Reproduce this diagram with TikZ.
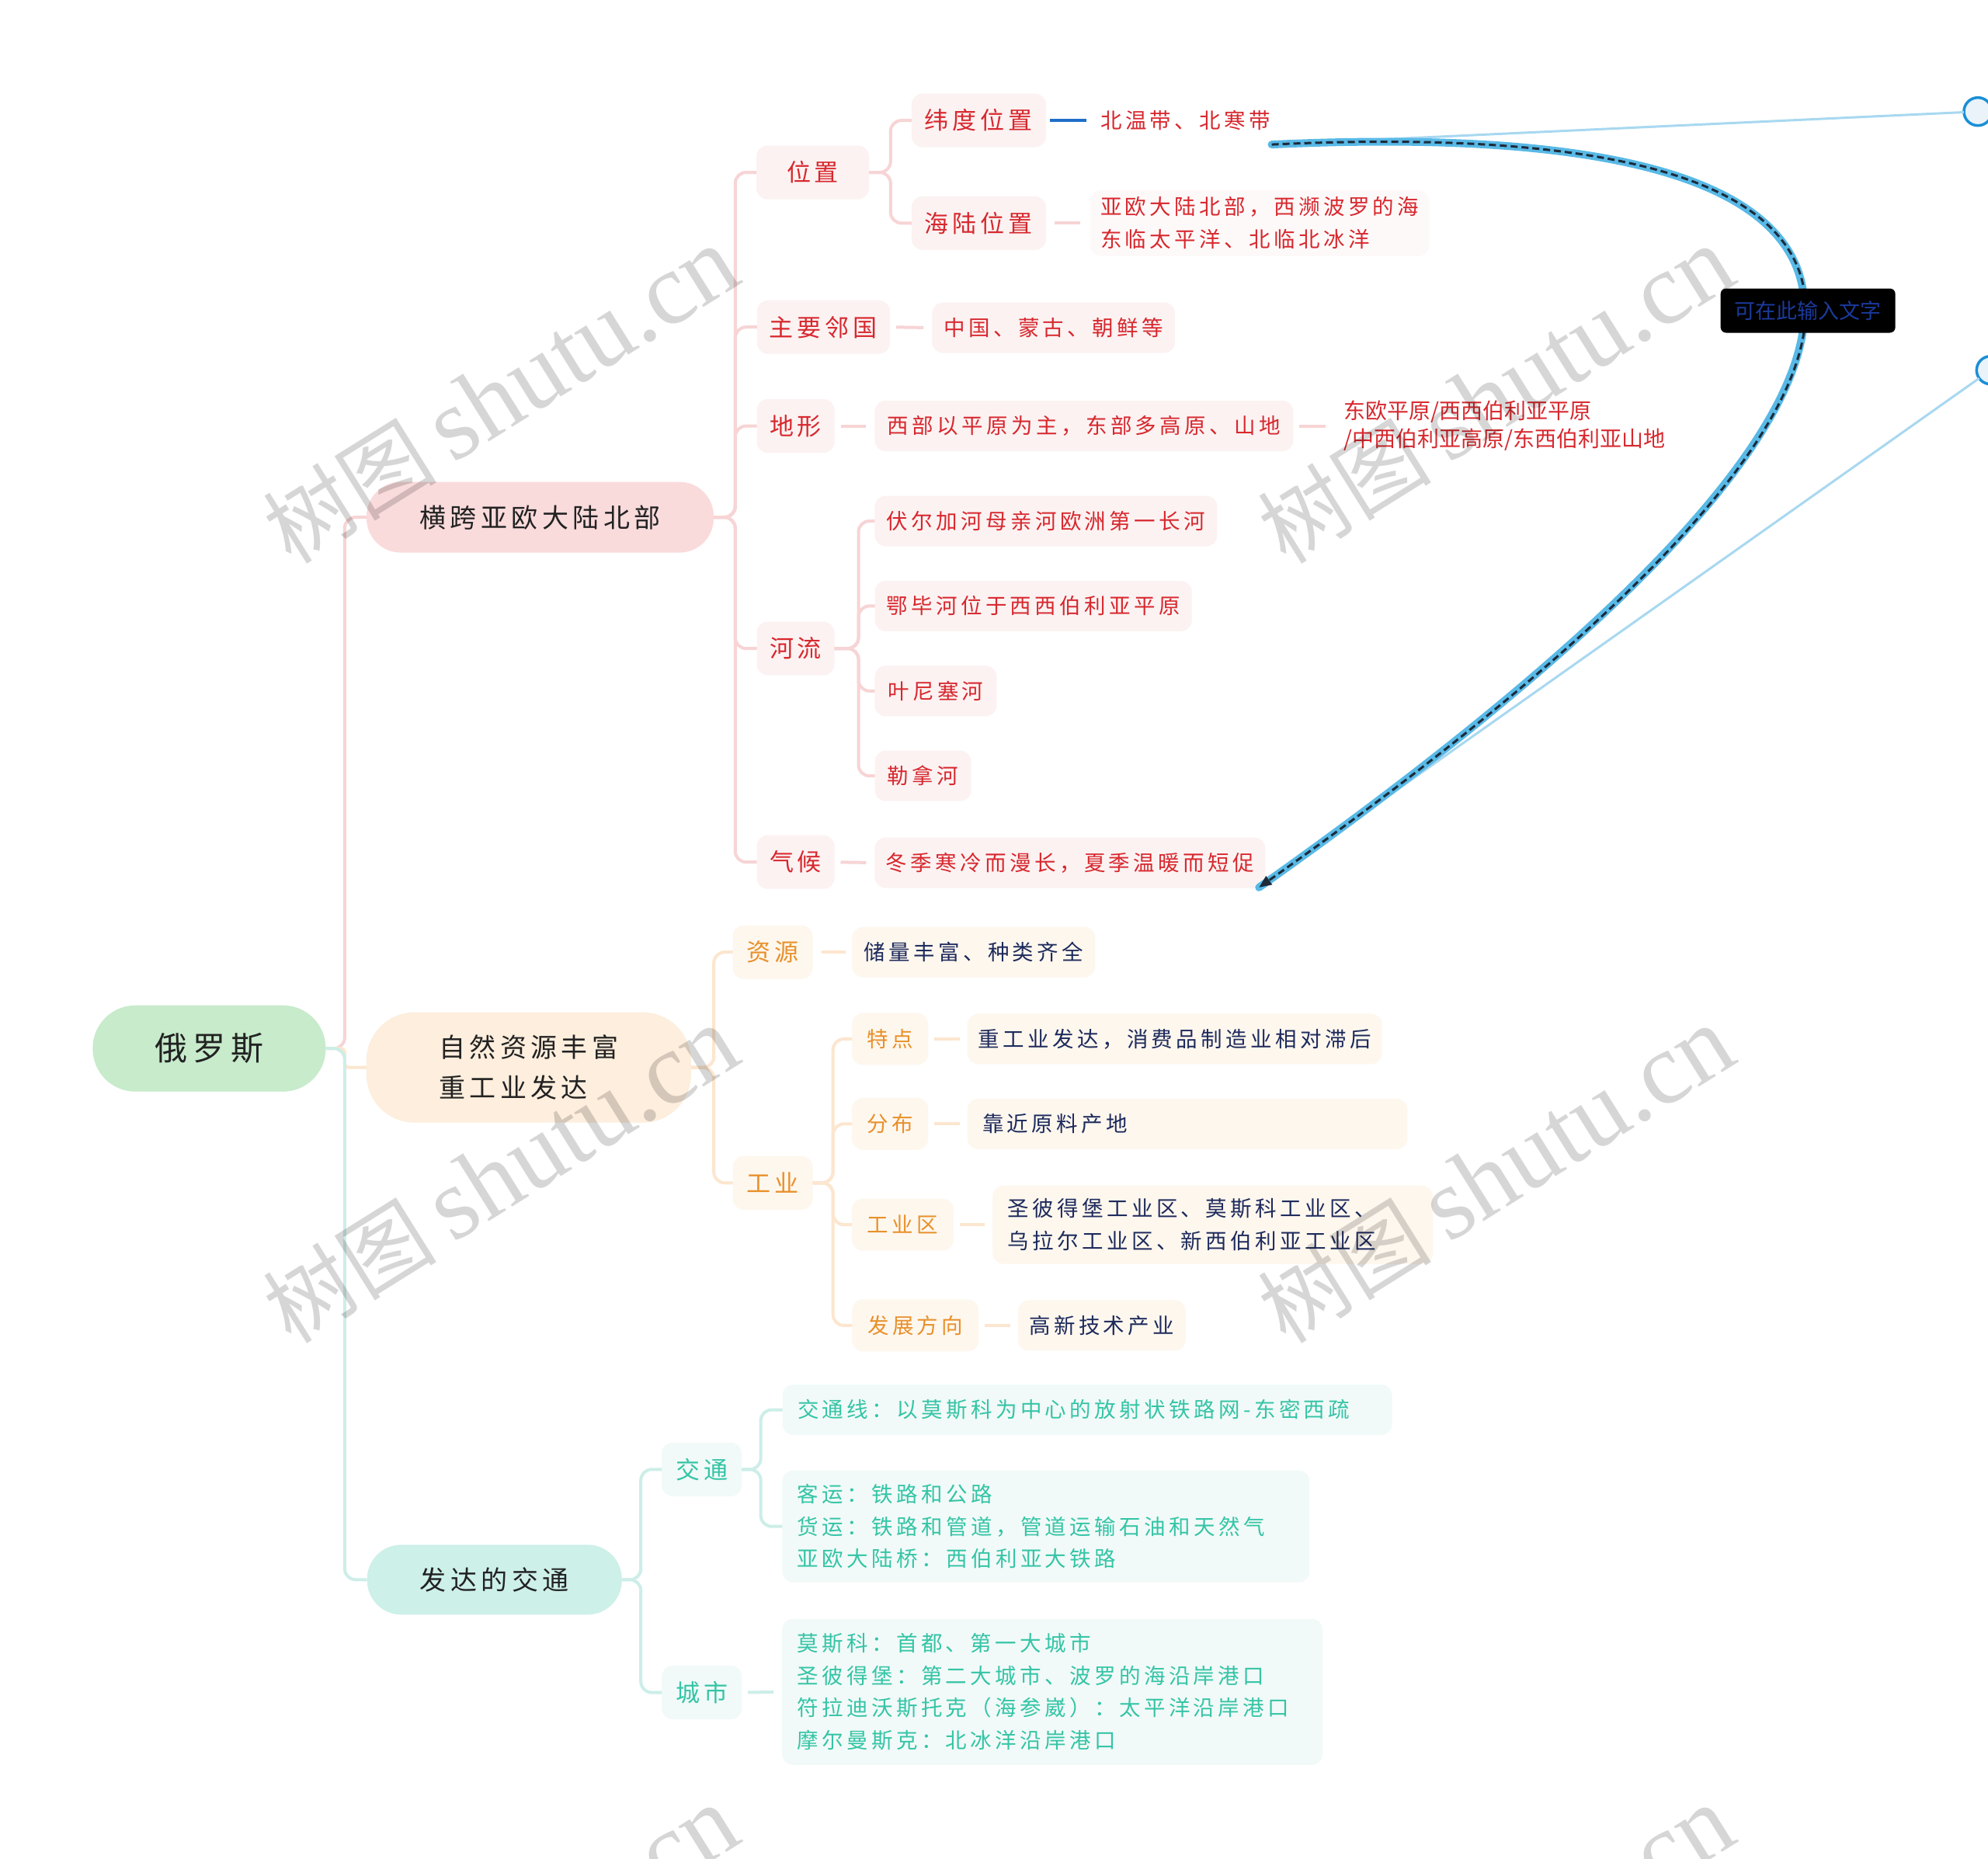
\documentclass[tikz,border=0pt]{standalone}
\usepackage{fontspec}
\usetikzlibrary{arrows.meta}
\newfontfamily\hw[LetterSpace=16]{Noto Sans CJK SC}
\newfontfamily\plainsans{Noto Sans CJK SC}
\newfontfamily\wmser{Liberation Serif}
\newcommand\myfs[2]{\fontsize{#1}{#2}\selectfont}
\definecolor{rootfill}{HTML}{C7EBCB}
\definecolor{pinkfill}{HTML}{FADBDC}
\definecolor{peachfill}{HTML}{FDEEDD}
\definecolor{mintfill}{HTML}{CDF0E9}
\definecolor{txtdark}{HTML}{222222}
\definecolor{redtxt}{HTML}{D7282E}
\definecolor{redbox}{HTML}{FCF2F2}
\definecolor{faintred}{HTML}{FEF9F9}
\definecolor{orgtxt}{HTML}{E8902A}
\definecolor{orgbox}{HTML}{FEF7EE}
\definecolor{navytxt}{HTML}{1D2A5C}
\definecolor{tealtxt}{HTML}{35C4A6}
\definecolor{tealbox}{HTML}{F1FAF8}
\definecolor{pinkln}{HTML}{F7D4D5}
\definecolor{peachln}{HTML}{FCE6CF}
\definecolor{mintln}{HTML}{CDEEE8}
\definecolor{blueln}{HTML}{1F6FC9}
\definecolor{handleln}{HTML}{A8D8F0}
\definecolor{ctrlblue}{HTML}{1A8FD6}
\definecolor{ctrlfill}{HTML}{EAF2FA}
\definecolor{glowblue}{HTML}{58B9E6}
\definecolor{dashdark}{HTML}{1D2B3A}
\definecolor{lbltxt}{HTML}{1B3A9C}
\begin{document}
\begin{tikzpicture}[x=1.6327pt,y=-1.6327pt,
  every node/.style={inner sep=0pt, outer sep=0pt},
  rootbox/.style={fill=rootfill, rounded corners=55pt, minimum width=300pt, minimum height=111pt, text=txtdark, font=\hw\myfs{42}{48}},
  lonebox/.style={rounded corners=44pt, font=\hw\myfs{34}{52}, text=txtdark, align=left},
  rl2/.style={fill=redbox, rounded corners=14pt, text=redtxt, font=\hw\myfs{31}{40}, minimum height=69pt},
  rleaf/.style={fill=redbox, rounded corners=14pt, text=redtxt, font=\hw\myfs{27.5}{42}, minimum height=65pt},
  ol2/.style={fill=orgbox, rounded corners=14pt, text=orgtxt, font=\hw\myfs{31}{40}, minimum height=69pt},
  ol3/.style={fill=orgbox, rounded corners=14pt, text=orgtxt, font=\hw\myfs{27.5}{40}, minimum height=67pt},
  nleaf/.style={fill=orgbox, rounded corners=14pt, text=navytxt, font=\hw\myfs{27.5}{42.5}, minimum height=65pt},
  tl2/.style={fill=tealbox, rounded corners=14pt, text=tealtxt, font=\hw\myfs{31}{40}, minimum height=69pt},
  tleaf/.style={fill=tealbox, rounded corners=14pt, text=tealtxt, font=\hw\myfs{27.5}{41.6}, align=left},
  lp/.style={draw=pinkln, line width=4pt, rounded corners=14pt},
  lo/.style={draw=peachln, line width=4pt, rounded corners=14pt},
  lm/.style={draw=mintln, line width=4pt, rounded corners=14pt},
  ctrlpt/.style={circle, draw=ctrlblue, line width=3.5pt, fill=ctrlfill, minimum size=36pt},
  handle/.style={draw=handleln, line width=3pt},
  glowline/.style={draw=glowblue, line width=10pt, line cap=round},
  dashcurve/.style={draw=dashdark, line width=3pt, dash pattern=on 9pt off 5pt, -{Triangle[length=16pt,width=13pt]}},
  lblbox/.style={fill=black, rounded corners=7pt, minimum width=225pt, minimum height=57pt, text=lbltxt, font=\plainsans\myfs{27}{30}},
  wm/.style={rotate=32, text=black, text opacity=0.16, font=\wmser\myfs{132}{132}}
]
\useasboundingbox (0,0) rectangle (1568,1466);
\fill[white] (0,0) rectangle (1568,1466);
\clip (0,0) rectangle (1568,1466);

% root and level 1
\node[rootbox] (root) at (165,827) {俄罗斯};
\node[lonebox, fill=pinkfill, minimum width=447pt, minimum height=91pt] (A) at (426,408) {横跨亚欧大陆北部};
\node[lonebox, fill=peachfill, minimum width=418pt, minimum height=142pt, rounded corners=62pt] (B) at (417,842) {自然资源丰富\\重工业发达};
\node[lonebox, fill=mintfill, minimum width=328pt, minimum height=90pt] (C) at (390,1246) {发达的交通};

% branch A
\node[rl2, minimum width=145pt] (wz) at (641,136) {位置};
\node[rl2, minimum width=171pt] (lg) at (649.5,258) {主要邻国};
\node[rl2, minimum width=100pt] (dx) at (627.5,336) {地形};
\node[rl2, minimum width=100pt] (hl) at (627.5,511.5) {河流};
\node[rl2, minimum width=100pt] (qh) at (627.5,680) {气候};
\node[rl2, minimum width=173pt] (wd) at (772,95) {纬度位置};
\node[rl2, minimum width=173pt] (hlw) at (772,176) {海陆位置};
\node[rleaf, fill=none, anchor=west] (wdc) at (868,95) {北温带、北寒带};
\node[rleaf, fill=faintred, anchor=west, inner xsep=13pt, align=left, minimum height=85pt] (hlc) at (860,176) {亚欧大陆北部，西濒波罗的海\\东临太平洋、北临北冰洋};
\node[rleaf, minimum width=313pt] (lgc) at (831,258.5) {中国、蒙古、朝鲜等};
\node[rleaf, minimum width=539pt] (dxc) at (855,336) {西部以平原为主，东部多高原、山地};
\node[font=\plainsans\myfs{28}{36}, text=redtxt, align=left, anchor=west] (dxn) at (1060,336) {东欧平原/西西伯利亚平原\\/中西伯利亚高原/东西伯利亚山地};
\node[rleaf, minimum width=441pt] (r1) at (825,411) {伏尔加河母亲河欧洲第一长河};
\node[rleaf, minimum width=408pt] (r2) at (815,478) {鄂毕河位于西西伯利亚平原};
\node[rleaf, minimum width=157pt] (r3) at (738,545) {叶尼塞河};
\node[rleaf, minimum width=124pt] (r4) at (728,612) {勒拿河};
\node[rleaf, minimum width=503pt] (qhc) at (844,680.5) {冬季寒冷而漫长，夏季温暖而短促};

% branch B
\node[ol2, minimum width=103pt] (zy) at (609.5,751) {资源};
\node[ol2, minimum width=103pt] (gy) at (609.5,933) {工业};
\node[nleaf, minimum width=313pt] (zyc) at (768,751) {储量丰富、种类齐全};
\node[ol3, minimum width=98pt] (td) at (702,819.5) {特点};
\node[ol3, minimum width=98pt] (fb) at (702,886.5) {分布};
\node[ol3, minimum width=131pt] (gyq) at (712,966) {工业区};
\node[ol3, minimum width=163pt] (fz) at (722,1045.5) {发展方向};
\node[nleaf, minimum width=534pt] (tdc) at (926.5,819.5) {重工业发达，消费品制造业相对滞后};
\node[nleaf, text width=528pt, inner xsep=19.5pt, align=left] (fbc) at (936.5,886.5) {靠近原料产地};
\node[nleaf, text width=528pt, inner xsep=19.5pt, align=left, minimum height=101pt] (gyqc) at (956.5,966) {圣彼得堡工业区、莫斯科工业区、\\乌拉尔工业区、新西伯利亚工业区};
\node[nleaf, minimum width=216pt] (fzc) at (869,1045.5) {高新技术产业};

% branch C
\node[tl2, minimum width=103pt] (jt) at (553.5,1159) {交通};
\node[tl2, minimum width=103pt] (cs) at (553.5,1335) {城市};
\node[tleaf, text width=746pt, inner xsep=19.5pt, minimum height=65pt] (jt1) at (857.5,1112) {交通线：以莫斯科为中心的放射状铁路网-东密西疏};
\node[tleaf, text width=640pt, inner xsep=19.5pt, minimum height=144pt] (jt2) at (825,1204) {客运：铁路和公路\\货运：铁路和管道，管道运输石油和天然气\\亚欧大陆桥：西伯利亚大铁路};
\node[tleaf, text width=657pt, inner xsep=19.5pt, minimum height=188pt] (csc) at (830,1334.5) {莫斯科：首都、第一大城市\\圣彼得堡：第二大城市、波罗的海沿岸港口\\符拉迪沃斯托克（海参崴）：太平洋沿岸港口\\摩尔曼斯克：北冰洋沿岸港口};

% connectors
\draw[lp] (root.east) -- ++(15,0) |- (A.west);
\draw[lo, rounded corners=5pt] (root.east) -- ++(15,0) |- (B.west);
\draw[lm] (root.east) -- ++(15,0) |- (C.west);
\foreach \c in {wz,lg,dx,hl,qh} \draw[lp] (A.east) -- ++(17,0) |- (\c.west);
\foreach \c in {wd,hlw} \draw[lp] (wz.east) -- ++(17,0) |- (\c.west);
\foreach \c in {r1,r2,r3,r4} \draw[lp] (hl.east) -- ++(19,0) |- (\c.west);
\foreach \c in {zy,gy} \draw[lo] (B.east) -- ++(18,0) |- (\c.west);
\foreach \c in {td,fb,gyq,fz} \draw[lo] (gy.east) -- ++(16,0) |- (\c.west);
\foreach \c in {jt,cs} \draw[lm] (C.east) -- ++(15,0) |- (\c.west);
\foreach \c in {jt1,jt2} \draw[lm] (jt.east) -- ++(15,0) |- (\c.west);
\draw[draw=blueln, line width=4pt, shorten <=5pt, shorten >=18pt] (wd.east) -- (wdc.west);
\draw[lp, shorten <=11pt, shorten >=13pt] (hlw.east) -- (hlc.west);
\draw[lp, shorten <=8pt, shorten >=11pt] (lg.east) -- (lgc.west);
\draw[lp, shorten <=8pt, shorten >=11pt] (dx.east) -- (dxc.west);
\draw[lp, shorten <=8pt, shorten >=24pt] (dxc.east) -- (dxn.west);
\draw[lp, shorten <=8pt, shorten >=11pt] (qh.east) -- (qhc.west);
\draw[lo, shorten <=11pt, shorten >=8pt] (zy.east) -- (zyc.west);
\draw[lo, shorten <=8pt, shorten >=10pt] (td.east) -- (tdc.west);
\draw[lo, shorten <=8pt, shorten >=10pt] (fb.east) -- (fbc.west);
\draw[lo, shorten <=8pt, shorten >=10pt] (gyq.east) -- (gyqc.west);
\draw[lo, shorten <=8pt, shorten >=10pt] (fz.east) -- (fzc.west);
\draw[lm, shorten <=8pt, shorten >=11pt] (cs.east) -- (csc.west);

% relationship curve with its handles
\coordinate (cS) at (1003,114);
\coordinate (cE) at (993,700);
\node[ctrlpt] (h1) at (1560,88) {};
\node[ctrlpt] (h2) at (1570,292) {};
\draw[handle] (cS) -- (h1);
\draw[handle] (cE) -- (h2);
\draw[glowline] (cS) .. controls (h1.center) and (h2.center) .. (cE);
\draw[dashcurve] (cS) .. controls (h1.center) and (h2.center) .. (cE);
\node[lblbox] (lab) at (1426,245) {可在此输入文字};

% watermarks
\foreach \p [count=\i] in {(395,312),(1180,312),(395,927),(1180,927),(395,1542),(1180,1542)}
  \node[wm] (wm\i) at \p {{\plainsans\myfs{112}{112}树图}\hspace{22pt}shutu.cn};
\end{tikzpicture}
\end{document}
